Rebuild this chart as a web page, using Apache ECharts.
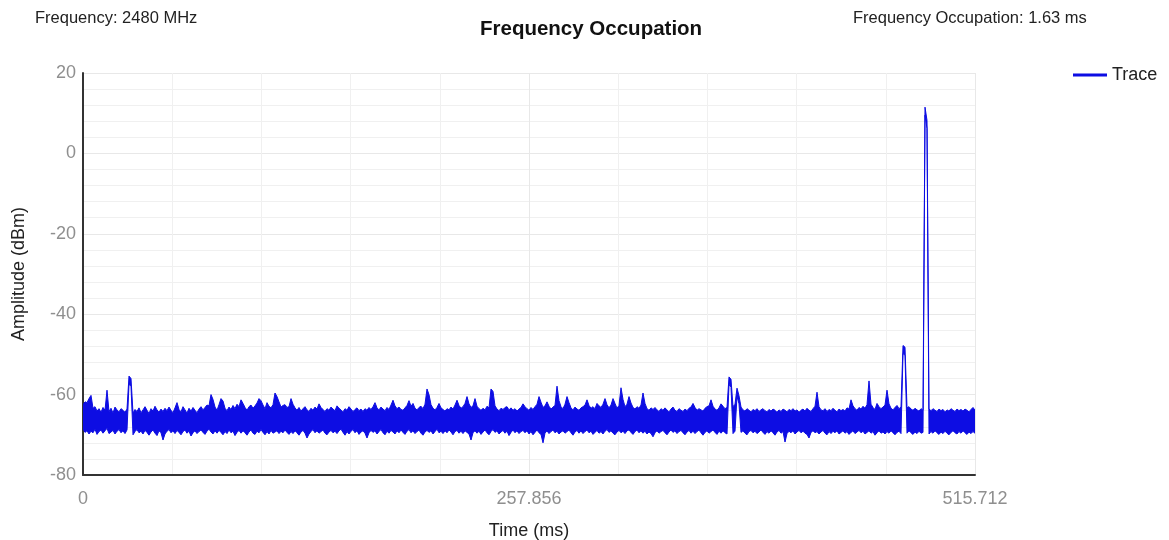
<!DOCTYPE html>
<html>
<head>
<meta charset="utf-8">
<script src="https://cdn.jsdelivr.net/npm/echarts@6/dist/echarts.min.js"></script>
<style>
html,body{margin:0;padding:0;background:#fff;}
#chart{width:1169px;height:540px;}
</style>
</head>
<body>
<div id="chart"></div>
<script>
// ---- data ----
const TITLE = 'Frequency Occupation';
const INFO_LEFT = 'Frequency: 2480 MHz';
const INFO_RIGHT = 'Frequency Occupation: 1.63 ms';
const SERIES_NAME = 'Trace';
const X_NAME = 'Time (ms)';
const Y_NAME = 'Amplitude (dBm)';
const X_TICK_LABELS = ['0', '257.856', '515.712'];
const Y_TICK_LABELS = ['-80', '-60', '-40', '-20', '0', '20'];
const TIME_START = 0;
const TIME_END = 515.712;
// The trace is very dense; it is drawn as its envelope per time slot:
// upper (max) and lower (min) amplitude in dBm, evenly spaced from TIME_START to TIME_END.
const TRACE_MAX = [
 -62.5,-61.8,-62.0,-61.0,-60.2,-63.4,-63.0,-64.1,-63.5,-64.4,-63.2,-63.9,-58.9,-64.2,-63.4,-64.6,-63.1,-63.8,-64.3,-63.5,
 -63.9,-64.4,-63.6,-55.4,-56.0,-64.6,-63.7,-64.2,-63.3,-64.5,-63.8,-63.0,-63.9,-64.7,-63.5,-64.1,-62.9,-63.8,-64.4,-63.6,
 -64.2,-63.4,-64.0,-63.1,-63.9,-64.5,-63.3,-62.0,-63.7,-64.3,-63.0,-63.8,-64.6,-63.4,-64.1,-63.2,-63.9,-64.5,-63.6,-63.0,
 -63.8,-63.2,-62.6,-62.8,-60.0,-61.2,-63.1,-63.9,-62.5,-61.0,-61.6,-63.4,-64.0,-63.1,-63.7,-62.7,-63.5,-62.4,-63.0,-61.3,
 -62.2,-63.2,-63.9,-63.0,-62.6,-63.4,-62.8,-62.1,-61.0,-61.5,-62.6,-63.5,-62.0,-62.9,-63.3,-62.5,-59.6,-60.5,-61.8,-63.1,
 -62.7,-62.5,-63.2,-63.0,-61.0,-62.4,-63.3,-63.9,-63.2,-64.1,-63.5,-63.0,-63.8,-64.2,-63.4,-63.9,-63.1,-63.6,-62.3,-63.2,
 -63.7,-64.2,-63.5,-63.9,-63.1,-63.6,-64.0,-62.8,-63.4,-63.8,-64.3,-63.5,-63.9,-63.0,-63.6,-64.2,-63.7,-63.3,-64.0,-63.6,
 -64.2,-63.5,-63.9,-63.2,-63.7,-63.0,-62.0,-63.3,-63.8,-63.1,-63.6,-64.0,-63.2,-63.7,-62.6,-61.4,-62.8,-63.5,-63.1,-63.7,
 -63.9,-63.3,-62.7,-61.5,-62.9,-62.2,-63.4,-63.8,-63.2,-62.9,-63.5,-62.4,-58.6,-60.0,-62.5,-63.4,-63.8,-63.2,-62.2,-63.3,
 -63.7,-64.1,-63.5,-63.8,-63.1,-63.6,-62.6,-61.4,-62.7,-63.4,-63.0,-62.2,-60.5,-62.3,-63.2,-62.8,-61.0,-62.9,-63.5,-63.9,
 -63.4,-63.8,-62.9,-63.3,-58.6,-59.2,-62.8,-63.6,-64.0,-63.4,-63.7,-63.2,-63.0,-63.8,-63.3,-63.9,-63.5,-64.1,-63.6,-63.2,
 -62.3,-63.0,-63.5,-63.9,-63.2,-63.7,-63.0,-62.4,-60.5,-61.9,-63.2,-62.8,-61.8,-62.9,-63.6,-63.1,-62.7,-57.9,-61.5,-63.0,
 -63.5,-62.4,-60.5,-62.0,-63.3,-63.8,-63.1,-63.6,-63.9,-63.3,-63.0,-62.6,-61.3,-62.7,-63.4,-63.0,-63.5,-62.2,-62.8,-63.2,
 -62.4,-61.0,-62.5,-63.3,-62.6,-61.0,-62.2,-63.4,-62.7,-58.3,-61.2,-63.0,-62.4,-60.5,-62.1,-63.2,-63.6,-63.0,-63.4,-62.6,
 -59.6,-62.2,-63.5,-63.9,-63.3,-63.7,-63.2,-63.8,-64.2,-63.5,-63.9,-63.3,-63.8,-64.3,-63.6,-63.1,-63.9,-64.2,-63.5,-63.9,
 -64.2,-63.6,-64.0,-63.4,-63.1,-62.2,-63.2,-63.9,-63.5,-63.8,-64.1,-63.4,-63.0,-62.8,-61.3,-62.9,-63.6,-63.9,-63.3,-62.3,
 -62.9,-63.5,-63.2,-55.6,-56.2,-63.0,-62.4,-58.4,-60.3,-63.1,-63.8,-64.1,-63.5,-63.9,-64.3,-63.7,-64.0,-63.5,-64.2,-63.8,
 -63.5,-64.0,-64.3,-63.7,-64.1,-63.6,-63.9,-64.4,-63.8,-64.2,-63.6,-63.9,-64.3,-63.7,-64.0,-63.5,-64.1,-63.8,-64.4,-63.9,
 -63.6,-64.1,-63.4,-63.9,-64.2,-63.5,-62.9,-59.4,-63.0,-63.8,-64.0,-63.5,-64.2,-63.7,-64.0,-63.4,-63.9,-64.3,-63.6,-64.0,
 -63.7,-64.1,-63.3,-63.6,-61.3,-62.8,-63.5,-63.9,-63.2,-63.6,-62.9,-63.4,-62.5,-56.6,-62.4,-63.2,-63.7,-62.2,-63.0,-63.5,
 -63.1,-62.6,-58.9,-62.3,-63.4,-63.8,-63.2,-62.7,-63.5,-63.1,-47.8,-48.2,-63.3,-63.0,-63.6,-63.9,-63.4,-63.8,-64.1,-63.5,
 -63.9,11.5,8.2,-63.6,-64.0,-63.5,-63.9,-64.2,-63.6,-64.0,-63.7,-64.3,-63.8,-64.1,-63.5,-63.9,-64.2,-63.6,-64.0,-63.7,
 -64.1,-63.6,-63.9,-64.3,-63.7,-63.2,-63.9
];
const TRACE_MIN = [
 -68.5,-69.4,-69.0,-69.8,-69.1,-69.5,-68.6,-69.9,-69.2,-68.8,-69.6,-69.0,-68.4,-69.7,-69.3,-68.9,-69.8,-69.1,-68.7,-69.5,
 -69.0,-69.7,-68.8,-57.4,-58.0,-70.0,-69.2,-68.7,-69.5,-69.1,-69.8,-68.9,-69.4,-70.1,-69.3,-68.8,-69.6,-70.2,-69.0,-69.5,
 -71.3,-69.8,-69.1,-68.7,-69.5,-69.0,-69.7,-68.9,-69.4,-70.0,-69.2,-68.8,-69.6,-69.1,-70.3,-69.5,-69.0,-69.7,-69.2,-68.8,
 -69.4,-69.9,-69.1,-68.6,-69.3,-69.8,-69.0,-69.6,-68.9,-69.4,-70.0,-69.2,-69.7,-68.8,-69.5,-69.1,-70.2,-69.4,-68.9,-69.6,
 -69.0,-69.5,-70.1,-69.3,-68.8,-69.6,-69.9,-69.1,-69.5,-68.7,-69.4,-70.0,-69.2,-69.8,-68.9,-69.6,-69.3,-69.0,-69.7,-69.1,
 -69.5,-68.8,-69.4,-69.9,-69.2,-69.7,-69.0,-69.5,-70.1,-69.3,-68.9,-69.6,-70.8,-69.8,-69.2,-68.7,-69.5,-69.0,-69.6,-69.2,
 -68.8,-69.6,-70.0,-69.3,-68.9,-69.5,-69.1,-69.7,-69.0,-68.6,-69.4,-70.1,-69.2,-69.8,-69.1,-68.7,-69.5,-69.0,-69.9,-69.3,
 -69.0,-69.6,-70.8,-69.5,-68.9,-69.4,-69.0,-69.8,-69.2,-68.7,-69.5,-70.0,-69.1,-69.6,-68.9,-69.3,-69.8,-69.0,-69.5,-68.8,
 -69.4,-69.9,-69.1,-68.7,-69.5,-69.0,-69.7,-69.2,-68.8,-69.6,-70.1,-69.3,-68.9,-69.4,-69.0,-69.8,-69.2,-68.6,-69.5,-69.1,
 -69.7,-69.0,-69.5,-68.8,-69.3,-70.0,-69.2,-68.9,-69.6,-69.1,-69.7,-69.0,-69.4,-69.8,-71.3,-69.5,-69.0,-69.6,-69.1,-69.9,
 -69.3,-68.8,-69.5,-70.0,-69.2,-68.7,-69.4,-69.0,-69.8,-69.3,-68.9,-69.6,-69.1,-70.2,-69.4,-68.8,-69.5,-69.0,-69.7,-69.2,
 -68.9,-69.5,-69.0,-69.8,-69.2,-70.0,-69.4,-68.8,-69.5,-69.9,-72.0,-69.6,-69.0,-69.7,-69.2,-68.8,-69.5,-69.1,-69.8,-69.3,
 -69.0,-69.6,-69.2,-68.8,-69.5,-70.1,-69.3,-68.9,-69.6,-69.0,-69.7,-69.2,-68.8,-69.5,-69.1,-69.9,-69.4,-68.9,-69.6,-69.2,
 -69.8,-69.1,-68.7,-69.4,-69.0,-69.6,-70.0,-69.3,-68.9,-69.5,-69.1,-69.7,-69.0,-68.8,-69.4,-69.9,-69.2,-68.8,-69.5,-69.0,
 -69.6,-69.1,-69.8,-69.3,-69.7,-70.5,-69.5,-69.0,-69.6,-69.2,-68.9,-69.5,-70.0,-69.3,-68.8,-69.4,-69.0,-69.7,-69.2,-68.9,
 -69.5,-70.0,-69.3,-68.9,-69.6,-69.1,-69.7,-69.2,-68.8,-69.5,-70.1,-69.4,-69.0,-69.6,-69.2,-68.8,-69.4,-69.9,-69.1,-69.6,
 -69.0,-69.5,-69.8,-57.5,-58.2,-69.7,-69.1,-60.4,-62.3,-69.4,-69.0,-69.6,-70.0,-69.2,-68.9,-69.5,-69.1,-69.7,-69.3,-68.8,
 -69.4,-69.9,-69.2,-69.6,-69.0,-69.5,-70.1,-69.3,-68.9,-69.6,-69.2,-71.8,-69.7,-69.1,-69.5,-69.0,-69.8,-69.3,-68.9,-69.5,
 -69.1,-69.6,-69.9,-70.8,-69.4,-69.0,-69.5,-69.2,-69.8,-69.3,-68.9,-69.6,-70.0,-69.2,-69.7,-69.1,-69.5,-69.0,-69.8,-69.4,
 -69.0,-69.6,-69.2,-69.9,-69.4,-69.0,-69.7,-69.3,-68.9,-69.5,-69.1,-69.8,-69.4,-69.0,-69.6,-69.2,-70.1,-69.5,-69.0,-69.6,
 -69.3,-69.8,-69.2,-69.6,-69.0,-69.5,-70.0,-69.4,-69.1,-69.7,-49.8,-50.2,-69.6,-69.0,-69.5,-69.9,-69.3,-69.7,-69.1,-69.6,
 -69.4,9.5,6.2,-69.8,-69.2,-69.6,-69.0,-69.5,-69.9,-69.3,-69.7,-69.1,-69.6,-70.0,-69.4,-69.0,-69.5,-69.8,-69.2,-69.6,
 -69.0,-69.5,-69.9,-69.3,-69.7,-69.2,-69.6
];

// ---- build ----
const N = TRACE_MAX.length;
const step = (TIME_END - TIME_START) / (N - 1);
const timeAt = (i) => TIME_START + i * step;
const X_INTERVAL = (TIME_END - TIME_START) / (X_TICK_LABELS.length - 1);
const Y_MIN = Number(Y_TICK_LABELS[0]);
const Y_MAX = Number(Y_TICK_LABELS[Y_TICK_LABELS.length - 1]);
const Y_INTERVAL = (Y_MAX - Y_MIN) / (Y_TICK_LABELS.length - 1);

const BLUE = '#0d0de3';
const FONT = 'Liberation Sans, Arial, sans-serif';

// envelope band: one polygon, upper edge forward then lower edge backward,
// every vertex positioned through the axes with api.coord
function renderBand(params, api) {
  const pts = [];
  for (let i = 0; i < N; i++) pts.push(api.coord([timeAt(i), TRACE_MAX[i]]));
  for (let i = N - 1; i >= 0; i--) pts.push(api.coord([timeAt(i), TRACE_MIN[i]]));
  const cs = params.coordSys;
  return {
    type: 'polygon',
    shape: {points: pts},
    clipPath: {type: 'rect', shape: {x: cs.x, y: cs.y, width: cs.width, height: cs.height}},
    style: {fill: BLUE, stroke: BLUE, lineWidth: 1, lineJoin: 'miter', miterLimit: 4}
  };
}

const chart = echarts.init(document.getElementById('chart'), null, {renderer: 'canvas'});
chart.setOption({
  animation: false,
  backgroundColor: '#ffffff',
  textStyle: {fontFamily: FONT},
  title: [
    {text: TITLE, left: 480, top: 19, padding: 0, textStyle: {fontFamily: FONT, fontSize: 20.5, fontWeight: 'bold', color: '#111'}},
    {text: INFO_LEFT, left: 35, top: 10, padding: 0, textStyle: {fontFamily: FONT, fontSize: 16.5, fontWeight: 'normal', color: '#222'}},
    {text: INFO_RIGHT, left: 853, top: 10, padding: 0, textStyle: {fontFamily: FONT, fontSize: 16.5, fontWeight: 'normal', color: '#222'}}
  ],
  legend: {
    data: [{name: SERIES_NAME, icon: 'rect', itemStyle: {color: BLUE}}], left: 1073, top: 66, padding: 0,
    itemWidth: 34, itemHeight: 3, itemGap: 6,
    textStyle: {fontFamily: FONT, fontSize: 18, color: '#222'}
  },
  grid: {left: 83, right: 194, top: 73, bottom: 65, containLabel: false, outerBoundsMode: 'none'},
  xAxis: {
    type: 'value', min: TIME_START, max: TIME_END, interval: X_INTERVAL,
    name: X_NAME, nameLocation: 'middle', nameGap: 47,
    nameTextStyle: {fontFamily: FONT, fontSize: 18, color: '#222'},
    axisLine: {show: true, onZero: false, lineStyle: {color: '#333', width: 2}},
    axisTick: {show: false},
    axisLabel: {margin: 15, fontSize: 18, color: '#8f8f8f', fontFamily: FONT,
      formatter: (v) => X_TICK_LABELS[Math.round((v - TIME_START) / X_INTERVAL)]},
    splitLine: {show: true, lineStyle: {color: '#e8e8e8', width: 1}},
    minorTick: {show: false, splitNumber: 5},
    minorSplitLine: {show: true, lineStyle: {color: '#f0f0f0', width: 1}}
  },
  yAxis: {
    type: 'value', min: Y_MIN, max: Y_MAX, interval: Y_INTERVAL,
    name: Y_NAME, nameLocation: 'middle', nameGap: 55, nameRotate: 90,
    nameTextStyle: {fontFamily: FONT, fontSize: 18, color: '#222'},
    axisLine: {show: true, onZero: false, lineStyle: {color: '#333', width: 2}},
    axisTick: {show: false},
    axisLabel: {margin: 7, fontSize: 18, color: '#8f8f8f', fontFamily: FONT,
      formatter: (v) => Y_TICK_LABELS[Math.round((v - Y_MIN) / Y_INTERVAL)]},
    splitLine: {show: true, lineStyle: {color: '#e8e8e8', width: 1}},
    minorTick: {show: false, splitNumber: 5},
    minorSplitLine: {show: true, lineStyle: {color: '#f0f0f0', width: 1}}
  },
  series: [{
    name: SERIES_NAME, type: 'custom', renderItem: renderBand,
    data: [[TIME_START, TRACE_MAX[0]]],
    encode: {x: 0, y: 1},
    itemStyle: {color: BLUE},
    silent: true
  }]
});
</script>
</body>
</html>
